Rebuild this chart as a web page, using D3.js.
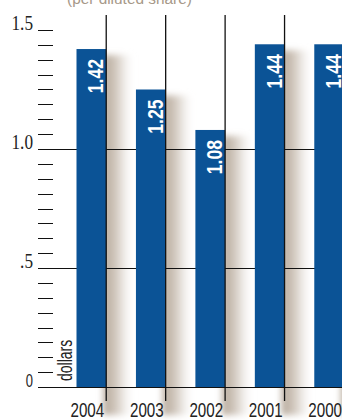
<!DOCTYPE html>
<html>
<head>
<meta charset="utf-8">
<script src="https://cdn.jsdelivr.net/npm/d3@7"></script>
<style>
  html, body { margin: 0; padding: 0; background: #ffffff; }
  svg { display: block; }
</style>
</head>
<body>
<svg id="chart" width="342" height="420"></svg>
<script>
// ---- data ----
const years = ["2004", "2003", "2002", "2001", "2000"];
const values = [1.42, 1.25, 1.08, 1.44, 1.44];
const valueLabels = ["1.42", "1.25", "1.08", "1.44", "1.44"];
const yTickValues = [0, 0.5, 1.0, 1.5];
const yTickLabels = ["0", ".5", "1.0", "1.5"];
const title = "(per diluted share)";
const unitLabel = "dollars";

// ---- layout ----
const W = 342, H = 420;
const svg = d3.select("#chart");
const x = d3.scaleBand().domain(years).range([76.5, 344]).paddingInner(0.5).paddingOuter(0).align(0);
const y = d3.scaleLinear().domain([0, 1.5]).range([387, 30]);
const bw = x.bandwidth();
const blue = "#0b5396";

const defs = svg.append("defs");
const grad = defs.append("linearGradient").attr("id", "shadowGrad").attr("x1", "0").attr("x2", "1").attr("y1", "0").attr("y2", "0");
grad.append("stop").attr("offset", "0").attr("stop-color", "#b3a596").attr("stop-opacity", 1);
grad.append("stop").attr("offset", "0.45").attr("stop-color", "#c9beb2").attr("stop-opacity", 0.8);
grad.append("stop").attr("offset", "1").attr("stop-color", "#efebe7").attr("stop-opacity", 0);
const blur = defs.append("filter").attr("id", "blur").attr("x", "-50%").attr("y", "-20%").attr("width", "200%").attr("height", "140%");
blur.append("feGaussianBlur").attr("stdDeviation", 3);

// shadows
svg.append("g").selectAll("rect").data(years).join("rect")
  .attr("x", d => x(d) + bw - 3)
  .attr("y", (d, i) => y(values[i]) + 6)
  .attr("width", 30)
  .attr("height", (d, i) => y(0) - y(values[i]) + 22)
  .attr("fill", "url(#shadowGrad)")
  .attr("filter", "url(#blur)");

// title
svg.append("text").attr("x", 67).attr("y", 4)
  .attr("font-family", "Liberation Sans, Arial, sans-serif").attr("font-size", 15.4)
  .attr("fill", "#a69888").text(title);

// y minor ticks (1/16 steps)
const minor = d3.range(0, 25).map(k => k / 16);
svg.append("g").selectAll("line").data(minor).join("line")
  .attr("x1", 38).attr("x2", 53)
  .attr("y1", d => Math.round(y(d)) + 0.5).attr("y2", d => Math.round(y(d)) + 0.5)
  .attr("stroke", "#111").attr("stroke-width", 1);

// horizontal major gridlines (0, .5, 1.0)
svg.append("g").selectAll("line").data(yTickValues.filter(v => v < 1.5)).join("line")
  .attr("x1", 38).attr("x2", W)
  .attr("y1", d => Math.round(y(d)) + 0.5).attr("y2", d => Math.round(y(d)) + 0.5)
  .attr("stroke", "#111").attr("stroke-width", 1.2);

// bars
svg.append("g").selectAll("rect").data(years).join("rect")
  .attr("x", d => x(d))
  .attr("y", (d, i) => y(values[i]))
  .attr("width", bw)
  .attr("height", (d, i) => y(0) - y(values[i]))
  .attr("fill", blue);

// vertical gridlines at right edge of bars
svg.append("g").selectAll("line").data(years).join("line")
  .attr("x1", d => x(d) + bw).attr("x2", d => x(d) + bw)
  .attr("y1", 15).attr("y2", 401)
  .attr("stroke", "#111").attr("stroke-width", 1.3);

// value labels (rotated)
svg.append("g").selectAll("text").data(years).join("text")
  .attr("transform", (d, i) => `translate(${x(d) + bw - 3},${y(values[i]) + 10}) rotate(-90) scale(0.8,1)`)
  .attr("text-anchor", "end")
  .attr("font-family", "Liberation Sans, Arial, sans-serif").attr("font-weight", "bold")
  .attr("font-size", 22).attr("fill", "#ffffff")
  .text((d, i) => valueLabels[i]);

// y tick labels
svg.append("g").selectAll("text").data(yTickValues).join("text")
  .attr("transform", d => `translate(33,${y(d) - 0.5}) scale(${d === 0 ? 0.74 : 0.84},1)`)
  .attr("text-anchor", "end")
  .attr("font-family", d => d === 0 ? "Liberation Sans, Arial, sans-serif" : "Liberation Serif, Times New Roman, serif")
  .attr("font-size", d => d === 0 ? 17.5 : 20.5)
  .attr("fill", "#222")
  .text((d, i) => yTickLabels[i]);

// x labels
svg.append("g").selectAll("text").data(years).join("text")
  .attr("transform", d => `translate(${x(d) + bw - 2},417) scale(0.74,1)`)
  .attr("text-anchor", "end")
  .attr("font-family", "Liberation Sans, Arial, sans-serif")
  .attr("font-size", 20.5).attr("fill", "#222")
  .text(d => d);

// unit label
svg.append("text")
  .attr("transform", `translate(72,381) rotate(-90) scale(0.7,1)`)
  .attr("font-family", "Liberation Sans, Arial, sans-serif")
  .attr("font-size", 20).attr("fill", "#222")
  .text(unitLabel);
</script>
</body>
</html>
